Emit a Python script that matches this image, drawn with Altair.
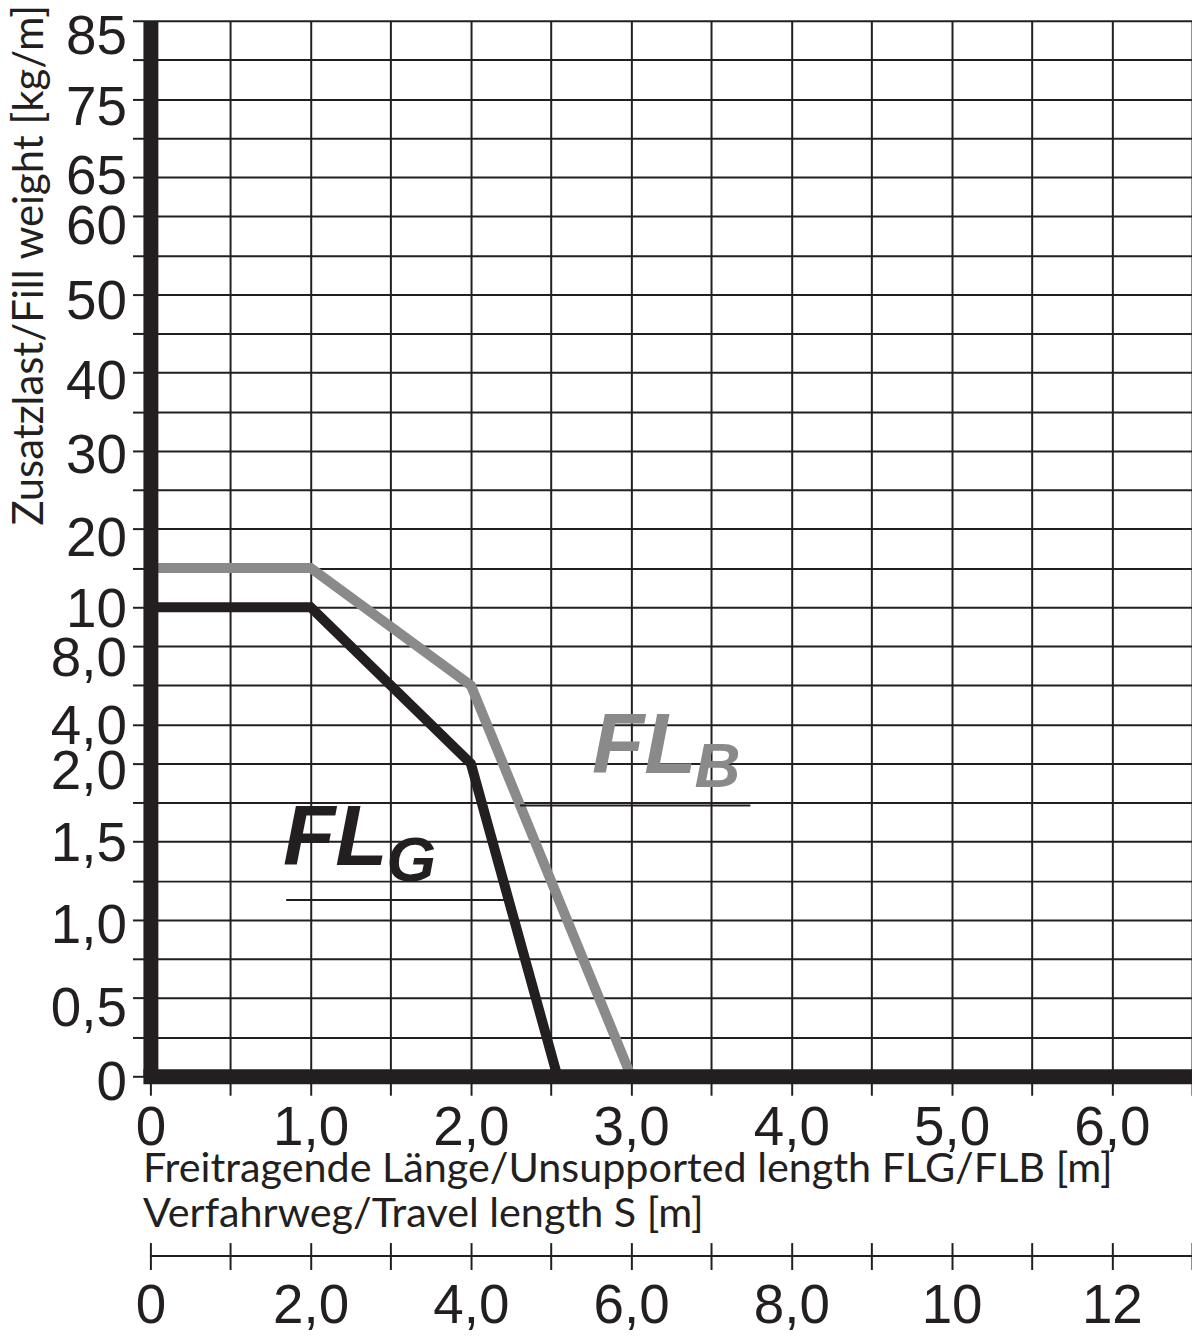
import altair as alt
import pandas as pd

# ---- data ----
flg_x = [0.0, 1.0, 2.0, 2.54]
flg_y = [10.0, 10.0, 2.0, 0.0]
flb_x = [0.0, 1.0, 2.0, 3.0]
flb_y = [15.0, 15.0, 6.0, 0.0]

x_grid = [i * 0.5 for i in range(14)]                      # 0 .. 6.5
y_grid = [0, 0.25, 0.5, 0.75, 1.0, 1.25, 1.5, 1.75, 2.0, 4.0, 6.0, 8.0, 10,
          15, 20, 25, 30, 35, 40, 45, 50, 55, 60, 65, 70, 75, 80, 85]
y_labels = [0, 0.5, 1.0, 1.5, 2.0, 4.0, 8.0, 10, 20, 30, 40, 50, 60, 65, 75, 85]
# small vertical nudges of the y labels as set in the reference drawing
y_label_nudge = [6, 11, 6, 2, 8, 2, 12, 2, 10, 5, 9, 7, 10, -1, 9, 16]
sec_ticks = list(range(14))                                # travel length 0 .. 13

series_names = ["FLG", "FLB"]
series_colors = ["#231f20", "#8a8a8a"]

# annotation anchors (data space)
ann_main_t = ["FL", "FL"]
ann_main_x = [0.827, 2.755]
ann_main_y = [1.35, 1.94]
ann_sub_t = ["G", "B"]
ann_sub_x = [1.474, 3.395]
ann_sub_y = [1.25, 1.853]
under_x = [0.847, 2.307]
under_x2 = [2.214, 3.744]
under_y = [1.127, 1.732]

# ---- layout ----
W, H = 1046, 1060
INK = "#231f20"
NUM_FONT = "Liberation Sans"
TXT_FONT = "Lato"

xs = alt.Scale(domain=[0, 6.5], nice=False, zero=False)
ys = alt.Scale(domain=[0, 2, 10, 85], range=[H, H * 19 / 27, H * 15 / 27, 0],
               nice=False, zero=False)
cs = alt.Scale(domain=series_names, range=series_colors)
ss = alt.Scale(domain=[0, 13], nice=False, zero=False)

df_lines = pd.DataFrame({
    "x": flg_x + flb_x,
    "y": flg_y + flb_y,
    "series": ["FLG"] * len(flg_x) + ["FLB"] * len(flb_x),
    "order": list(range(len(flg_x))) + list(range(len(flb_x))),
})
df_main = pd.DataFrame({"t": ann_main_t, "x": ann_main_x, "y": ann_main_y, "series": series_names})
df_sub = pd.DataFrame({"t": ann_sub_t, "x": ann_sub_x, "y": ann_sub_y, "series": series_names})
df_under = pd.DataFrame({"x": under_x, "x2": under_x2, "y": under_y})
df_sec = pd.DataFrame({"s": sec_ticks})

lbl_list = "[" + ",".join(str(v) for v in y_labels) + "]"
fmt = ("(datum.value == 0 ? '0' : datum.value >= 10 ? format(datum.value, 'd') : "
       "replace(format(datum.value, '.1f'), '.', ','))")
y_label_expr = f"indexof({lbl_list}, datum.value) >= 0 ? {fmt} : ''"
x_label_expr = f"datum.value % 1 == 0 ? {fmt} : ''"
s_label_expr = f"datum.value % 2 == 0 ? {fmt} : ''"

y_offset_cond = {
    "condition": [{"test": f"datum.value == {v}", "value": n}
                  for v, n in zip(y_labels, y_label_nudge)],
    "value": 6,
}

grid_x_axis = alt.Axis(values=x_grid, grid=True, gridColor=INK, gridWidth=2, gridOpacity=1,
                       domain=False, ticks=False, labels=False, title=None, zindex=0)
grid_y_axis = alt.Axis(values=y_grid, grid=True, gridColor=INK, gridWidth=2, gridOpacity=1,
                       domain=False, ticks=False, labels=False, title=None, zindex=0)

main_x_axis = alt.Axis(
    orient="bottom", values=x_grid, grid=False, zindex=1,
    domain=True, domainColor=INK, domainWidth=15, domainCap="square",
    ticks=True, tickColor=INK, tickWidth=2, tickSize=19,
    labelExpr=x_label_expr, labelFont=NUM_FONT, labelFontSize=55, labelColor=INK,
    labelPadding=6, labelFlush=False, labelOverlap=False,
    title=["Freitragende Länge/Unsupported length FLG/FLB [m]", "Verfahrweg/Travel length S [m]"],
    titleFont=TXT_FONT, titleFontSize=41.5, titleFontWeight="normal", titleColor=INK,
    titleAnchor="start", titleAlign="left", titleBaseline="top",
    titleX=-8, titleY=73, titleLineHeight=45,
)
main_y_axis = alt.Axis(
    orient="left", values=y_grid, grid=False, zindex=1,
    domain=True, domainColor=INK, domainWidth=15, domainCap="butt",
    ticks=True, tickColor=INK, tickWidth=2, tickSize=18,
    labelExpr=y_label_expr, labelFont=NUM_FONT, labelFontSize=55, labelColor=INK,
    labelPadding=6, labelBaseline="middle", labelOverlap=False, labelFlush=False,
    labelOffset=y_offset_cond,
    title="Zusatzlast/Fill weight [kg/m]",
    titleFont=TXT_FONT, titleFontSize=42, titleFontWeight="normal", titleColor=INK,
    titleAngle=270, titleAlign="center", titleBaseline="top",
    titleX=-141, titleY=245,
)
sec_axis_ticks = alt.Axis(
    orient="bottom", offset=167, values=sec_ticks, grid=False, domain=False,
    ticks=True, tickColor=INK, tickWidth=2, tickSize=27,
    labelExpr=s_label_expr, labelFont=NUM_FONT, labelFontSize=55, labelColor=INK,
    labelPadding=10, labelFlush=False, labelOverlap=False, title=None, zindex=1,
)
sec_axis_line = alt.Axis(
    orient="bottom", offset=180, values=sec_ticks, grid=False,
    domain=True, domainColor=INK, domainWidth=2,
    ticks=False, labels=False, title=None, zindex=1,
)

lines = alt.Chart(df_lines).mark_line(strokeWidth=10, strokeJoin="miter", strokeCap="butt").encode(
    x=alt.X("x:Q", scale=xs, axis=grid_x_axis),
    y=alt.Y("y:Q", scale=ys, axis=grid_y_axis),
    color=alt.Color("series:N", scale=cs, legend=None),
    order="order:Q",
)
axes_layer = alt.Chart(df_lines).mark_point(opacity=0).encode(
    x=alt.X("x:Q", scale=xs, axis=main_x_axis),
    y=alt.Y("y:Q", scale=ys, axis=main_y_axis),
)
txt_main = alt.Chart(df_main).mark_text(
    font=NUM_FONT, fontSize=86, fontWeight="bold", fontStyle="italic",
    align="left", baseline="alphabetic").encode(
    x=alt.X("x:Q", scale=xs, axis=None),
    y=alt.Y("y:Q", scale=ys, axis=None),
    text="t:N",
    color=alt.Color("series:N", scale=cs, legend=None),
)
txt_sub = alt.Chart(df_sub).mark_text(
    font=NUM_FONT, fontSize=64, fontWeight="bold", fontStyle="italic",
    align="left", baseline="alphabetic").encode(
    x=alt.X("x:Q", scale=xs, axis=None),
    y=alt.Y("y:Q", scale=ys, axis=None),
    text="t:N",
    color=alt.Color("series:N", scale=cs, legend=None),
)
underlines = alt.Chart(df_under).mark_rule(strokeWidth=2, color=INK).encode(
    x=alt.X("x:Q", scale=xs, axis=None),
    x2="x2:Q",
    y=alt.Y("y:Q", scale=ys, axis=None),
)
sec_a = alt.Chart(df_sec).mark_point(opacity=0).encode(
    x=alt.X("s:Q", scale=ss, axis=sec_axis_ticks))
sec_b = alt.Chart(df_sec).mark_point(opacity=0).encode(
    x=alt.X("s:Q", scale=ss, axis=sec_axis_line))

chart = alt.layer(lines, axes_layer, txt_main, txt_sub, underlines, sec_a, sec_b).resolve_scale(
    x="independent", y="independent"
).properties(
    width=W, height=H,
    autosize=alt.AutoSizeParams(type="none"),
    padding={"left": 143, "top": 10, "right": 0, "bottom": 262},
).configure_view(strokeWidth=0)

chart.save("out.html", embed_options={"renderer": "svg", "actions": False})
